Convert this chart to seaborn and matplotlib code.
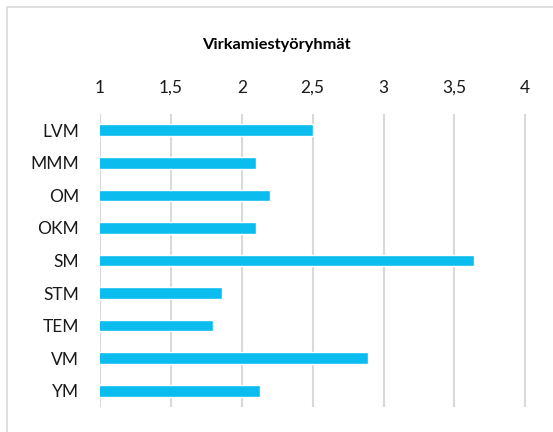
import matplotlib
matplotlib.use("Agg")
import matplotlib.pyplot as plt
import seaborn as sns
import pandas as pd

categories = ["LVM", "MMM", "OM", "OKM", "SM", "STM", "TEM", "VM", "YM"]
values = [2.50, 2.10, 2.20, 2.10, 3.64, 1.86, 1.80, 2.89, 2.13]
x_ticks = [1, 1.5, 2, 2.5, 3, 3.5, 4]
x_tick_labels = ["1", "1,5", "2", "2,5", "3", "3,5", "4"]
title = "Virkamiestyöryhmät"

sns.set_theme(style="white")
plt.rcParams["font.family"] = ["Lato", "DejaVu Sans"]

df = pd.DataFrame({"ryhma": categories, "arvo": values})

fig = plt.figure(figsize=(5.53, 4.32), dpi=100)
ax = fig.add_axes([0.1808, 0.058, 0.7742, 0.678])

grid_color = "#d9d9d9"
for t in x_ticks:
    ax.axvline(t, color=grid_color, lw=1.5, zorder=0)

sns.barplot(data=df, x="arvo", y="ryhma", orient="h", color="#0bbdef",
            width=0.36, saturation=1, ax=ax, zorder=2)

ax.set_xlim(1, 4.02)
ax.set_ylim(len(categories) - 0.5, -0.5)
ax.xaxis.tick_top()
ax.set_xticks(x_ticks)
ax.set_xticklabels(x_tick_labels)
ax.tick_params(axis="x", length=0, pad=13, labelsize=12.5, colors="#1a1a1a")
ax.tick_params(axis="y", length=0, pad=15, labelsize=12.5, colors="#1a1a1a")
ax.set_xlabel("")
ax.set_ylabel("")
for s in ax.spines.values():
    s.set_visible(False)

fig.text(0.5, 1 - 45 / 432, title, ha="center", va="center",
         fontsize=11.8, fontweight="bold", color="#000000")

# chart frame
frame = plt.Rectangle((7 / 553, -0.1), 1.2, 1 - 7 / 432 + 0.1,
                      transform=fig.transFigure, fill=False,
                      edgecolor="#d9d9d9", lw=1.2)
fig.patches.append(frame)

fig.savefig("out.png", dpi=100)
